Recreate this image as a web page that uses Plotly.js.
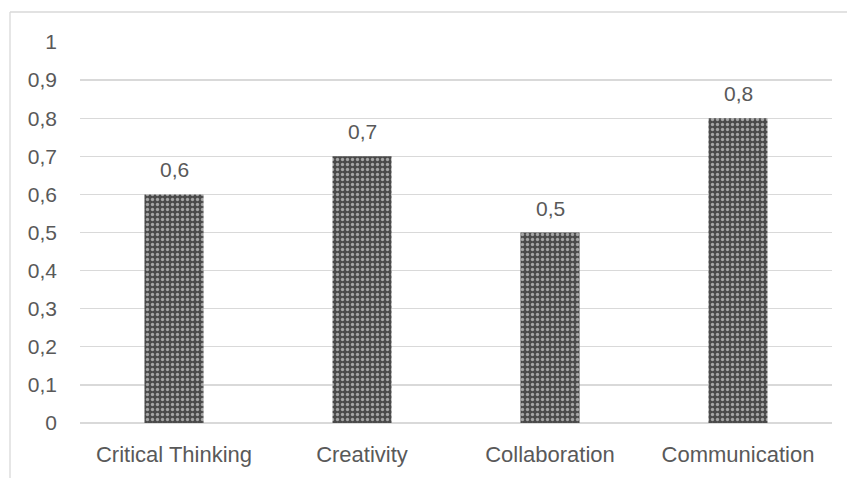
<!DOCTYPE html>
<html>
<head>
<meta charset="utf-8">
<script src="https://cdn.plot.ly/plotly-3.0.1.min.js"></script>
<style>html,body{margin:0;padding:0;background:#fff;}#chart{width:847px;height:478px;}</style>
</head>
<body>
<div id="chart"></div>
<script>
const categories = ["Critical Thinking", "Creativity", "Collaboration", "Communication"];
const values = [0.6, 0.7, 0.5, 0.8];
const yTicks = [0, 0.1, 0.2, 0.3, 0.4, 0.5, 0.6, 0.7, 0.8, 0.9, 1];

const textColor = "#595959";
const gridColor = "#d9d9d9";
const fontFamily = "'Liberation Sans', Arial, sans-serif";
const fmt = v => String(v).replace(".", ",");

const trace = {
  type: "bar",
  x: categories,
  y: values,
  marker: {
    color: "#ffffff",
    line: {width: 0},
    pattern: {shape: ".", bgcolor: "#4a4a4a", fgcolor: "#ffffff", size: 5, solidity: 0.35, fillmode: "overlay"}
  },
  hoverinfo: "none"
};

const annotations = categories.map((c, i) => ({
  x: c, y: values[i], xref: "x", yref: "y",
  text: fmt(values[i]), showarrow: false,
  yanchor: "bottom", yshift: 11,
  font: {family: fontFamily, size: 21, color: textColor}
}));

const layout = {
  width: 847,
  height: 478,
  margin: {l: 80, r: 15, t: 42, b: 55},
  paper_bgcolor: "#ffffff",
  plot_bgcolor: "#ffffff",
  showlegend: false,
  bargap: 0.686,
  font: {family: fontFamily, size: 21, color: textColor},
  xaxis: {
    type: "category",
    showgrid: false,
    showline: false,
    zeroline: false,
    ticks: "",
    ticklabelstandoff: 16,
    tickfont: {family: fontFamily, size: 22, color: textColor},
    fixedrange: true
  },
  yaxis: {
    range: [0, 1],
    tickvals: yTicks,
    ticktext: yTicks.map(fmt),
    showgrid: true,
    gridcolor: gridColor,
    gridwidth: 1.3,
    zeroline: true,
    zerolinecolor: gridColor,
    zerolinewidth: 1.3,
    showline: false,
    ticks: "",
    ticklabelstandoff: 22,
    tickfont: {family: fontFamily, size: 21, color: textColor},
    fixedrange: true
  },
  annotations: annotations,
  shapes: [
    {type: "line", xref: "paper", yref: "paper", x0: -70/752, x1: 1.05, y0: (423-12)/381, y1: (423-12)/381, line: {color: gridColor, width: 1.3}, layer: "below"},
    {type: "line", xref: "paper", yref: "paper", x0: -70/752, x1: -70/752, y0: (423-12)/381, y1: -0.2, line: {color: gridColor, width: 1.3}, layer: "below"}
  ]
};

Plotly.newPlot("chart", [trace], layout, {staticPlot: true, displayModeBar: false});
</script>
</body>
</html>
